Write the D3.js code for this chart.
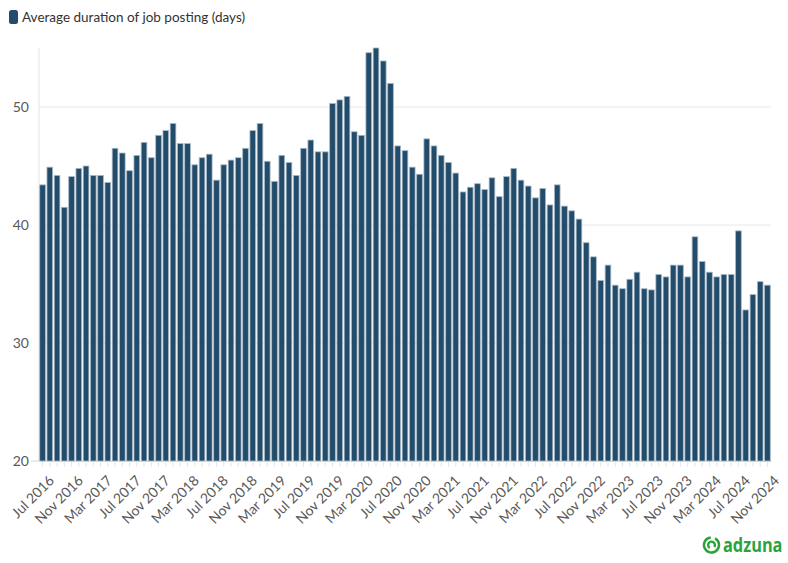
<!DOCTYPE html>
<html lang="en">
    <head>
        <meta charset="utf-8">
        <title>Average duration of job posting</title>
        <script src="https://d3js.org/d3.v7.min.js"></script>
        <style type="text/css">
            body { margin: 0; background: #fff; }
            .axis text {
                font-family: Lato, sans-serif;
                font-size: 14px;
                fill: #595959;
            }
            .grid line { stroke: #e8e8e8; }
            .bar {
                fill: #234b6a;
                stroke: #a6b8c7;
                stroke-width: 0.8px;
            }
        </style>
    </head>
    <body>
        <script type="text/javascript">

            const w = 788;
            const h = 563;
            const margin = {top: 48, right: 17, bottom: 102, left: 39};

            const startYear = 2016, startMonth = 6; // Jul 2016
            const durationDays = [
                43.4, 44.9, 44.2, 41.5, 44.1, 44.8, 45.0, 44.2, 44.2, 43.6,
                46.5, 46.1, 44.6, 45.9, 47.0, 45.7, 47.6, 48.0, 48.6, 46.9,
                46.9, 45.1, 45.7, 46.0, 43.8, 45.1, 45.5, 45.7, 46.5, 48.0,
                48.6, 45.4, 43.7, 45.9, 45.3, 44.2, 46.5, 47.2, 46.2, 46.2,
                50.3, 50.6, 50.9, 47.9, 47.6, 54.6, 55.0, 53.9, 52.0, 46.7,
                46.3, 44.9, 44.3, 47.3, 46.7, 45.9, 45.3, 44.4, 42.8, 43.2,
                43.5, 43.0, 44.0, 42.4, 44.1, 44.8, 43.8, 43.3, 42.3, 43.1,
                41.7, 43.4, 41.6, 41.2, 40.5, 38.5, 37.3, 35.3, 36.6, 34.9,
                34.6, 35.4, 36.0, 34.6, 34.5, 35.8, 35.6, 36.6, 36.6, 35.6,
                39.0, 36.9, 36.0, 35.6, 35.8, 35.8, 39.5, 32.8, 34.1, 35.2,
                34.9
            ];
            const yTicks = [20, 30, 40, 50];
            const monthNames = ["Jan","Feb","Mar","Apr","May","Jun","Jul","Aug","Sep","Oct","Nov","Dec"];

            const months = durationDays.map((d, i) => {
                const m = startMonth + i;
                return monthNames[m % 12] + " " + (startYear + Math.floor(m / 12));
            });

            const xScale = d3.scaleBand().domain(months)
                .range([margin.left, w - margin.right]).paddingInner(0.22).paddingOuter(0.1);
            const yScale = d3.scaleLinear().domain([20, 55]).range([h - margin.bottom, margin.top]);

            const svg = d3.select("body").append("svg").attr("width", w).attr("height", h);

            // gridlines
            svg.append("g")
                .attr("class", "grid")
                .selectAll("line")
                .data(yTicks.slice(1))
                .enter().append("line")
                .attr("x1", margin.left).attr("x2", w - margin.right)
                .attr("y1", d => yScale(d)).attr("y2", d => yScale(d));

            // y axis line
            svg.append("line")
                .attr("x1", margin.left).attr("x2", margin.left)
                .attr("y1", margin.top).attr("y2", h - margin.bottom)
                .attr("stroke", "#e3e3e3");
            svg.append("line")
                .attr("x1", margin.left - 8).attr("x2", margin.left)
                .attr("y1", yScale(20)).attr("y2", yScale(20))
                .attr("stroke", "#d6d6d6");

            const leftAxis = d3.axisLeft(yScale).tickValues(yTicks).tickSize(0).tickPadding(10);
            const gy = svg.append("g")
                .attr("class", "axis")
                .attr("transform", "translate(" + margin.left + ",0)")
                .call(leftAxis);
            gy.select(".domain").remove();
            gy.selectAll("text").style("font-size", "14px");

            svg.selectAll(".bar")
                .data(durationDays)
                .enter().append("rect")
                .attr("class", "bar")
                .attr("x", (d, i) => xScale(months[i]))
                .attr("width", xScale.bandwidth())
                .attr("y", d => yScale(d))
                .attr("height", d => yScale(20) - yScale(d));

            // small tick marks under every bar
            svg.append("g")
                .selectAll("line")
                .data(months)
                .enter().append("line")
                .attr("x1", d => xScale(d) + xScale.bandwidth() / 2)
                .attr("x2", d => xScale(d) + xScale.bandwidth() / 2)
                .attr("y1", h - margin.bottom + 1)
                .attr("y2", h - margin.bottom + 6)
                .attr("stroke", "#e6e6e6");

            const labelled = months.filter((d, i) => i % 4 === 0);
            const bottomAxis = d3.axisBottom(xScale).tickValues(labelled).tickSize(0);
            const gx = svg.append("g")
                .attr("class", "axis")
                .attr("transform", "translate(0," + (h - margin.bottom) + ")")
                .call(bottomAxis);
            gx.select(".domain").attr("stroke", "#ccd6de");
            gx.selectAll("text")
                .attr("text-anchor", "end")
                .attr("y", 0)
                .attr("dy", "0.35em")
                .attr("transform", "translate(9,17) rotate(-45)");

            // legend
            svg.append("rect")
                .attr("x", 9).attr("y", 10).attr("width", 9).attr("height", 14)
                .attr("rx", 2.5)
                .attr("fill", "#234b6a");
            svg.append("text")
                .attr("x", 22).attr("y", 22)
                .style("font-family", "Lato, sans-serif")
                .style("font-size", "13.5px")
                .style("fill", "#333")
                .text("Average duration of job posting (days)");

            // adzuna logo
            const green = "#2ca23b";
            const logo = svg.append("g").attr("transform", "translate(711.5,545)");
            logo.append("path")
                .attr("d", d3.arc().innerRadius(6.3).outerRadius(8.8).startAngle(0.5).endAngle(2 * Math.PI - 0.1)())
                .attr("fill", green);
            logo.append("path")
                .attr("d", d3.arc().innerRadius(2.2).outerRadius(4.6).startAngle(-2.6).endAngle(2.2)())
                .attr("fill", green);
            logo.append("text")
                .attr("transform", "translate(11.5,6.5) scale(0.86,1)")
                .style("font-family", "'Open Sans', sans-serif")
                .style("font-weight", "bold")
                .style("font-size", "19px")
                .style("fill", green)
                .text("adzuna");
        </script>
    </body>
</html>
